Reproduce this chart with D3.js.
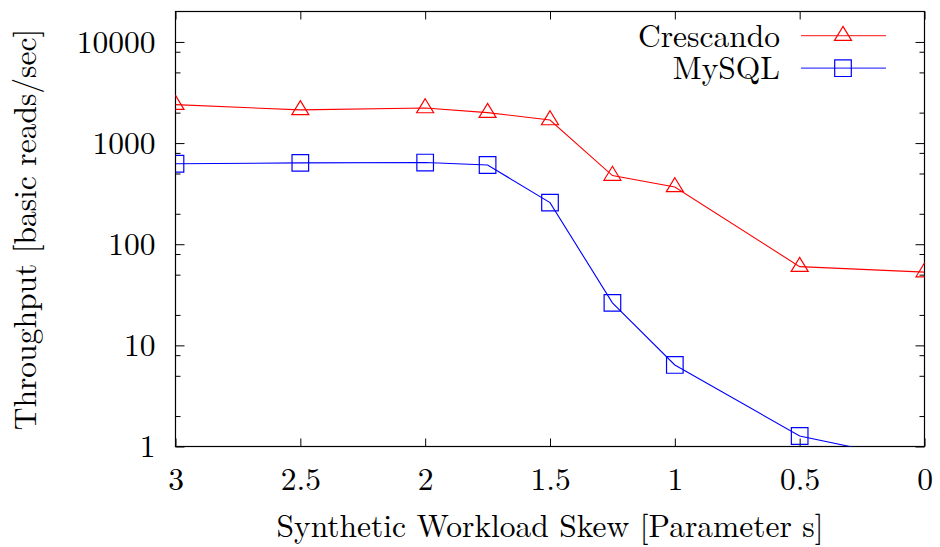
<!DOCTYPE html>
<html>
<head>
<meta charset="utf-8">
<script src="https://cdn.jsdelivr.net/npm/d3@7"></script>
<style>
  body { margin: 0; background: #fff; }
</style>
</head>
<body>
<svg id="chart" width="940" height="547"></svg>
<script>
// Throughput vs. workload skew (log scale), Crescando vs MySQL
const skew = [3, 2.5, 2, 1.75, 1.5, 1.25, 1, 0.5, 0];
const crescando = [2400, 2130, 2220, 2000, 1690, 477, 368, 60, 53];
const mysql = [625, 637, 642, 607, 258, 26.3, 6.4, 1.27, 0.7];
const xTicks = [3, 2.5, 2, 1.5, 1, 0.5, 0];
const yTicks = [1, 10, 100, 1000, 10000];
const minorSteps = [2, 5, 8];

const width = 940;
const height = 547;
const margin = { top: 11.5, right: 15.5, bottom: 100.5, left: 175.5 };
const innerWidth = width - margin.left - margin.right;
const innerHeight = height - margin.top - margin.bottom;
const fontSize = 31.5;
const fontFamily = '"Latin Modern Roman", "Liberation Serif", serif';

const svg = d3.select('#chart');
const g = svg.append('g').attr('transform', `translate(${margin.left},${margin.top})`);

const x = d3.scaleLinear().domain([3, 0]).range([0, innerWidth]);
const y = d3.scaleLog().domain([1, 20000]).range([innerHeight, 0]);

// minor ticks at 2,5,8 of each decade (as in the original plot)
const yMinor = yTicks.flatMap(t => minorSteps.map(m => t * m)).filter(v => v < 20000);

g.append('clipPath').attr('id', 'plotClip')
  .append('rect').attr('width', innerWidth).attr('height', innerHeight);

function styleAxis(sel, labels) {
  sel.select('.domain').remove();
  sel.selectAll('line').attr('stroke', '#000').attr('stroke-width', 1);
  if (!labels) {
    sel.selectAll('text').remove();
    return;
  }
  sel.selectAll('text')
    .attr('fill', '#000')
    .style('font-size', `${fontSize}px`)
    .style('font-family', fontFamily);
}

// bottom + top (mirrored) x ticks
g.append('g').attr('transform', `translate(0,${innerHeight})`)
  .call(d3.axisBottom(x).tickValues(xTicks).tickFormat(d3.format('')).tickSizeInner(-8).tickSizeOuter(0).tickPadding(21))
  .call(styleAxis, true);
g.append('g')
  .call(d3.axisTop(x).tickValues(xTicks).tickSizeInner(-8).tickSizeOuter(0))
  .call(styleAxis, false);

// left + right y ticks, major and minor
g.append('g')
  .call(d3.axisLeft(y).tickValues(yTicks).tickFormat(d3.format('')).tickSizeInner(-9).tickSizeOuter(0).tickPadding(20))
  .call(styleAxis, true);
g.append('g').attr('transform', `translate(${innerWidth},0)`)
  .call(d3.axisRight(y).tickValues(yTicks).tickSizeInner(-9).tickSizeOuter(0))
  .call(styleAxis, false);
g.append('g')
  .call(d3.axisLeft(y).tickValues(yMinor).tickSizeInner(-5).tickSizeOuter(0))
  .call(styleAxis, false);
g.append('g').attr('transform', `translate(${innerWidth},0)`)
  .call(d3.axisRight(y).tickValues(yMinor).tickSizeInner(-5).tickSizeOuter(0))
  .call(styleAxis, false);

// plot border
g.append('rect')
  .attr('width', innerWidth)
  .attr('height', innerHeight)
  .attr('fill', 'none')
  .attr('stroke', '#000')
  .attr('stroke-width', 1.2);

const series = [
  { name: 'Crescando', values: crescando, color: '#ff0000', marker: 'triangle' },
  { name: 'MySQL', values: mysql, color: '#0000ff', marker: 'square' }
];

const triPath = 'M0,-9.3L8.5,4.7L-8.5,4.7Z';
const sqPath = 'M-8.3,-8.3H8.3V8.3H-8.3Z';
const markerPath = m => (m === 'triangle' ? triPath : sqPath);

const line = d3.line().x(d => x(d[0])).y(d => y(d[1]));

const plot = g.append('g').attr('clip-path', 'url(#plotClip)');
series.forEach(s => {
  const pts = skew.map((k, i) => [k, s.values[i]]);
  plot.append('path')
    .datum(pts)
    .attr('fill', 'none')
    .attr('stroke', s.color)
    .attr('stroke-width', 1.1)
    .attr('d', line);
  plot.selectAll(null)
    .data(pts)
    .join('path')
      .attr('transform', d => `translate(${x(d[0])},${y(d[1])})`)
      .attr('d', markerPath(s.marker))
      .attr('fill', 'none')
      .attr('stroke', s.color)
      .attr('stroke-width', 1.2);
});

// legend (top right, gnuplot style)
const legend = g.append('g').attr('transform', `translate(0,${-margin.top})`);
series.forEach((s, i) => {
  const ly = 35.7 + i * 32.5;
  legend.append('text')
    .attr('x', 780 - margin.left)
    .attr('y', ly + 11)
    .attr('text-anchor', 'end')
    .style('font-size', `${fontSize}px`)
    .style('font-family', fontFamily)
    .text(s.name);
  legend.append('line')
    .attr('x1', 801 - margin.left).attr('x2', 886 - margin.left)
    .attr('y1', ly).attr('y2', ly)
    .attr('stroke', s.color)
    .attr('stroke-width', 1.3)
    .attr('stroke-opacity', 0.75);
  legend.append('path')
    .attr('transform', `translate(${843 - margin.left},${ly})`)
    .attr('d', markerPath(s.marker))
    .attr('fill', 'none')
    .attr('stroke', s.color)
    .attr('stroke-width', 1.2);
});

// axis titles
svg.append('text')
  .attr('x', margin.left + innerWidth / 2)
  .attr('y', 536.5)
  .attr('text-anchor', 'middle')
  .style('font-size', `${fontSize}px`)
  .style('font-family', fontFamily)
  .text('Synthetic Workload Skew [Parameter s]');

svg.append('text')
  .attr('transform', `translate(36,229.5) rotate(-90)`)
  .attr('text-anchor', 'middle')
  .style('font-size', `${fontSize}px`)
  .style('font-family', fontFamily)
  .text('Throughput [basic reads/sec]');
</script>
</body>
</html>
